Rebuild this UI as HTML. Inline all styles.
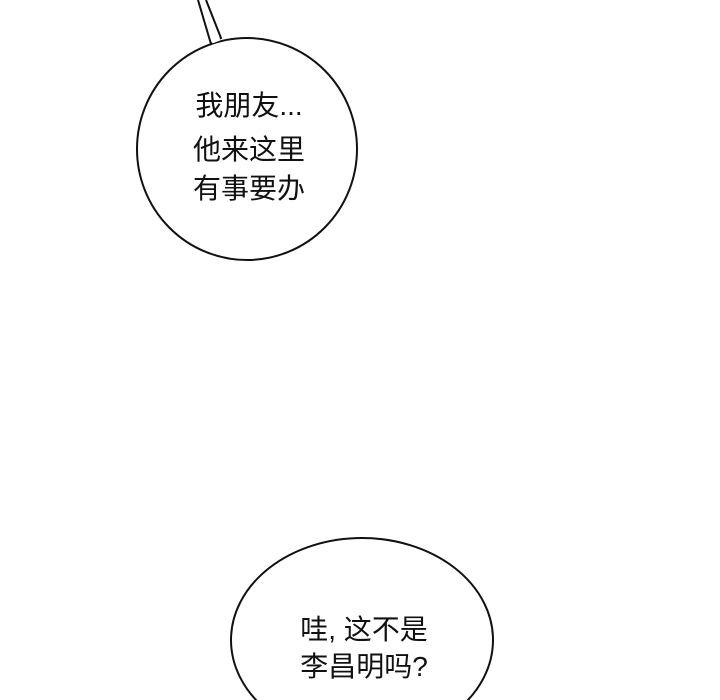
<!DOCTYPE html>
<html><head><meta charset="utf-8"><style>
html,body{margin:0;padding:0;background:#fff;width:720px;height:700px;overflow:hidden}
svg{display:block}
text{font-family:"Liberation Sans","Noto Sans CJK SC",sans-serif;font-size:28px;fill:#111}
</style></head><body>
<svg width="720" height="700" viewBox="0 0 720 700">
<ellipse cx="247" cy="149" rx="110" ry="111" fill="#fff" stroke="#111" stroke-width="2"/>
<path d="M198,0 L211,44 L221,38 L206,0" fill="#fff" stroke="#111" stroke-width="2"/>
<path d="M212,42 L220,39" stroke="#fff" stroke-width="3"/>
<text x="249" y="115" text-anchor="middle">我朋友...</text>
<text x="249" y="159" text-anchor="middle">他来这里</text>
<text x="249" y="198" text-anchor="middle">有事要办</text>
<ellipse cx="362" cy="640" rx="131" ry="102" fill="#fff" stroke="#111" stroke-width="2"/>
<text x="364" y="639" text-anchor="middle">哇, 这不是</text>
<text x="364" y="676" text-anchor="middle">李昌明吗?</text>
</svg>
</body></html>
